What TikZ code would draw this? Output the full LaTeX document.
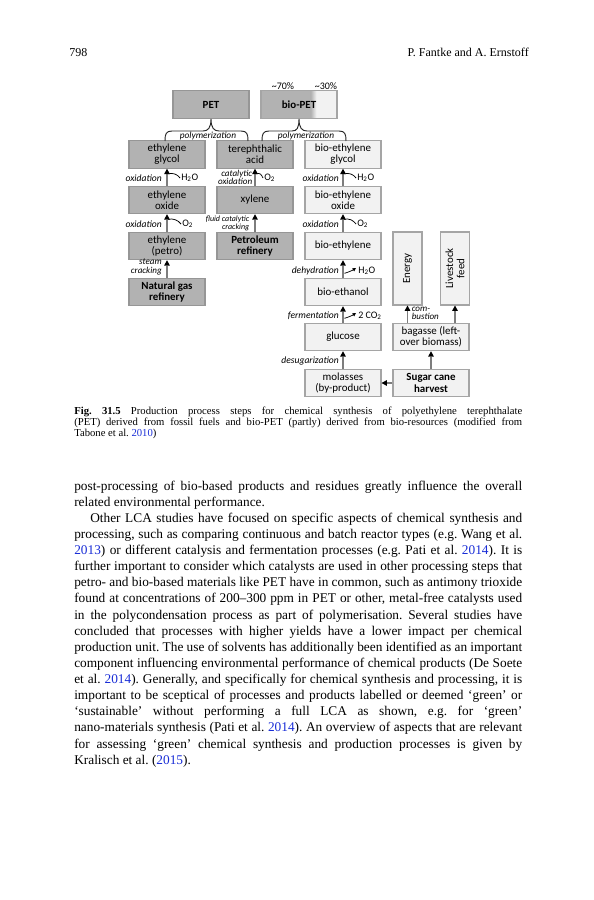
\documentclass[tikz,border=0pt]{standalone}
\usepackage{fontspec}
\setmainfont{Liberation Serif}
\newfontfamily\carlito{Carlito}
\usetikzlibrary{arrows.meta,calc}
\definecolor{darkfill}{RGB}{178,178,178}
\definecolor{darkline}{RGB}{150,150,150}
\definecolor{lightfill}{RGB}{242,242,242}
\definecolor{lightline}{RGB}{165,165,165}
\definecolor{shaft}{RGB}{125,125,125}
\definecolor{linkblue}{RGB}{25,45,215}
\newcommand\lnk[1]{\textcolor{linkblue}{#1}}
\newcommand\chsub[1]{\textsubscript{#1}}
\tikzset{
  box/.style={draw, line width=0.8pt, minimum width=57pt, minimum height=20.6pt, inner sep=1pt, align=center, font=\carlito\fontsize{8.2}{8.4}\selectfont},
  dk/.style={box, fill=darkfill, draw=darkline},
  lt/.style={box, fill=lightfill, draw=lightline},
  bfb/.style={font=\carlito\bfseries\fontsize{8.2}{8.4}\selectfont},
  flow/.style={draw=shaft, line width=1.1pt, -{Triangle[length=4pt,width=4.4pt,color=black,line width=0pt]}},
  inline/.style={draw=black, line width=0.55pt},
  outarr/.style={draw=black, line width=0.55pt, -{Triangle[length=2.6pt,width=2.8pt,line width=0pt]}},
  brace/.style={draw=black!85, line width=0.7pt},
  lab/.style={inner sep=0pt, font=\carlito\itshape\fontsize{7.2}{7.2}\selectfont},
  plab/.style={inner sep=0pt, font=\carlito\itshape\fontsize{7}{7}\selectfont},
  chem/.style={inner sep=0pt, font=\carlito\fontsize{7.5}{7.5}\selectfont},
  smalllab/.style={inner sep=0pt, font=\carlito\itshape\fontsize{6.8}{6.3}\selectfont},
  tinylab/.style={inner sep=0pt, font=\carlito\itshape\fontsize{6}{6}\selectfont},
  pct/.style={inner sep=0pt, font=\carlito\fontsize{7.5}{7.5}\selectfont},
  txt/.style={anchor=base west, inner sep=0pt, font=\fontsize{10}{12}\selectfont},
  captxt/.style={anchor=base west, inner sep=0pt, font=\fontsize{8}{9}\selectfont},
  head/.style={inner sep=0pt, font=\fontsize{9}{10}\selectfont}
}
\begin{document}
\frenchspacing
\begin{tikzpicture}[x=0.75pt,y=-0.75pt]
\useasboundingbox[fill=white] (0,0) rectangle (593,900);

% running head
\node[head, anchor=base west] (pg) at (69,56) {798};
\node[head, anchor=base east] (au) at (529,56) {P. Fantke and A. Ernstoff};

% ---------- diagram ----------
\node[dk, bfb] (pet) at (211,104.5) {PET};
\node[lt, bfb, path picture={
   \fill[darkfill] (path picture bounding box.south west) rectangle ([xshift=-19.5pt]path picture bounding box.north east);
   \shade[left color=darkfill, right color=lightfill] ([xshift=-19.6pt]path picture bounding box.south east) rectangle ([xshift=-15.5pt]path picture bounding box.north east);
 }] (bpet) at (299,104.5) {bio-PET};
\node[pct] (p70) at (283,86) {\textasciitilde70\%};
\node[pct] (p30) at (326,86) {\textasciitilde30\%};

\node[dk] (eg) at (167,154.5) {ethylene\\glycol};
\node[dk] (ta) at (255,154.5) {terephthalic\\acid};
\node[lt] (beg) at (343,154.5) {bio-ethylene\\glycol};

\node[dk] (eo) at (167,200) {ethylene\\oxide};
\node[dk] (xy) at (255,200) {xylene};
\node[lt] (beo) at (343,200) {bio-ethylene\\oxide};

\node[dk] (ep) at (167,246) {ethylene\\(petro)};
\node[dk, bfb] (pr) at (255,246) {Petroleum\\refinery};
\node[lt] (be) at (343,246) {bio-ethylene};

\node[dk, bfb] (ng) at (167,292) {Natural gas\\refinery};
\node[lt] (bet) at (343,292) {bio-ethanol};

\node[lt] (glu) at (343,337) {glucose};
\node[lt] (bag) at (431,337) {bagasse (left-\\over biomass)};

\node[lt] (mol) at (343,383) {molasses\\(by-product)};
\node[lt, bfb] (sch) at (431,383) {Sugar cane\\harvest};

% tall boxes (text rotated; their page bottom is the anchor .west)
\node[lt, rotate=90, minimum width=54.75pt, minimum height=21.75pt] (en) at (407.5,268.5) {Energy};
\node[lt, rotate=90, minimum width=54.75pt, minimum height=21.75pt] (lf) at (455,268.5) {Livestock\\feed};

% braces
\draw[brace] (165,141) .. controls (165,134) and (166,131) .. (172,131) -- (203,131)
   .. controls (208,131) and (211,128) .. (pet.south)
   .. controls (211,128) and (214,131) .. (219,131) -- (241,131)
   .. controls (247,131) and (248,134) .. (248,141);
\draw[brace] (262,141) .. controls (262,134) and (263,131) .. (269,131) -- (292,131)
   .. controls (297,131) and (299,128) .. (bpet.south)
   .. controls (299,128) and (302,131) .. (307,131) -- (339,131)
   .. controls (345,131) and (346,134) .. (346,141);
\node[plab] (poly1) at (208,136.5) {polymerization};
\node[plab] (poly2) at (306,136.5) {polymerization};

% vertical flows
\draw[flow] (eo.north) -- (eg.south);
\draw[flow] (ep.north) -- (eo.south);
\draw[flow] (ng.north) -- (ep.south);
\draw[flow] (xy.north) -- (ta.south);
\draw[flow] (pr.north) -- (xy.south);
\draw[flow] (beo.north) -- (beg.south);
\draw[flow] (be.north) -- (beo.south);
\draw[flow] (bet.north) -- (be.south);
\draw[flow] (glu.north) -- (bet.south);
\draw[flow] (mol.north) -- (glu.south);
\draw[flow] (bag.north -| en.west) -- (en.west);
\draw[flow] (bag.north -| lf.west) -- (lf.west);
\draw[flow] (sch.north) -- (bag.south);
\draw[flow] (sch.west) -- (mol.east);

% labels between rows 2 and 3
\node[lab, anchor=east] (ox1) at (162,178) {oxidation};
\node[chem, anchor=west] (w1) at (181,178) {H\chsub{2}O};
\coordinate (s1) at ($(eg.south)+(1.2,5)$);
\draw[inline] (s1) .. controls +(5,-1) and +(-3,-4) .. ($(w1.west)+(-1,0)$);

\node[smalllab, anchor=east, align=right] (cat) at (252.5,177.5) {catalytic\\oxidation};
\node[chem, anchor=west] (o1) at (264,178) {O\chsub{2}};
\coordinate (s2) at ($(ta.south)+(1.2,5)$);
\draw[inline] (s2) .. controls +(4,-1) and +(-2,-4) .. ($(o1.west)+(-1,0)$);

\node[lab, anchor=east] (ox2) at (339,178) {oxidation};
\node[chem, anchor=west] (w2) at (357,178) {H\chsub{2}O};
\coordinate (s3) at ($(beg.south)+(1.2,5)$);
\draw[inline] (s3) .. controls +(5,-1) and +(-3,-4) .. ($(w2.west)+(-1,0)$);

% labels between rows 3 and 4
\node[lab, anchor=east] (ox3) at (162,224) {oxidation};
\node[chem, anchor=west] (o2) at (182,224) {O\chsub{2}};
\coordinate (s4) at ($(eo.south)+(1.2,5)$);
\draw[inline] (s4) .. controls +(5,-1) and +(-3,-4) .. ($(o2.west)+(-1,0)$);

\node[tinylab, anchor=east, align=right] (fcc) at (249.5,223) {fluid catalytic\\cracking};

\node[lab, anchor=east] (ox4) at (339,224) {oxidation};
\node[chem, anchor=west] (o3) at (357,224) {O\chsub{2}};
\coordinate (s5) at ($(beo.south)+(1.2,5)$);
\draw[inline] (s5) .. controls +(5,-1) and +(-3,-4) .. ($(o3.west)+(-1,0)$);

% labels between rows 4 and 5
\node[smalllab, anchor=east, align=right] (stc) at (162,267) {steam\\cracking};
\node[lab, anchor=east] (dh) at (339,271) {dehydration};
\node[chem, anchor=west] (w3) at (358,271) {H\chsub{2}O};
\coordinate (s6) at ($(be.south)+(1.5,13)$);
\draw[outarr] (s6) .. controls +(4,-1) and +(-3,2) .. ($(w3.west)+(-2,-3)$);

% labels between rows 5 and 6
\node[lab, anchor=east] (fm) at (339,316) {fermentation};
\node[chem, anchor=west] (co) at (358,316) {2 CO\chsub{2}};
\coordinate (s7) at ($(bet.south)+(1.5,12)$);
\draw[outarr] (s7) .. controls +(4,-1) and +(-3,2) .. ($(co.west)+(-2,-3)$);
\node[smalllab, anchor=west, align=left] (cb) at (411.5,313.5) {com-\\bustion};

% labels between rows 6 and 7
\node[lab, anchor=east] (ds) at (339,361) {desugarization};

% ---------- caption ----------
\node[captxt] (c1) at (74,414.5) {\makebox[336pt][s]{\textbf{Fig. 31.5} Production process steps for chemical synthesis of polyethylene terephthalate}};
\node[captxt] (c2) at (74,425.5) {\makebox[336pt][s]{(PET) derived from fossil fuels and bio-PET (partly) derived from bio-resources (modified from}};
\node[captxt] (c3) at (74,436.5) {Tabone et al. \lnk{2010})};

% ---------- body text ----------
\node[txt] (b1) at (74,490.0) {\makebox[336pt][s]{post-processing of bio-based products and residues greatly influence the overall}};
\node[txt] (b2) at (74,506.1) {related environmental performance.};
\node[txt] (b3) at (74,522.3) {\makebox[336pt][s]{\hspace*{12pt}Other LCA studies have focused on specific aspects of chemical synthesis and}};
\node[txt] (b4) at (74,538.4) {\makebox[336pt][s]{processing, such as comparing continuous and batch reactor types (e.g. Wang et al.}};
\node[txt] (b5) at (74,554.5) {\makebox[336pt][s]{\lnk{2013}) or different catalysis and fermentation processes (e.g. Pati et al. \lnk{2014}). It is}};
\node[txt] (b6) at (74,570.7) {\makebox[336pt][s]{further important to consider which catalysts are used in other processing steps that}};
\node[txt] (b7) at (74,586.8) {\makebox[336pt][s]{petro- and bio-based materials like PET have in common, such as antimony trioxide}};
\node[txt] (b8) at (74,602.9) {\makebox[336pt][s]{found at concentrations of 200–300 ppm in PET or other, metal-free catalysts used}};
\node[txt] (b9) at (74,619.0) {\makebox[336pt][s]{in the polycondensation process as part of polymerisation. Several studies have}};
\node[txt] (b10) at (74,635.2) {\makebox[336pt][s]{concluded that processes with higher yields have a lower impact per chemical}};
\node[txt] (b11) at (74,651.3) {\makebox[336pt][s]{production unit. The use of solvents has additionally been identified as an important}};
\node[txt] (b12) at (74,667.4) {\makebox[336pt][s]{component influencing environmental performance of chemical products (De Soete}};
\node[txt] (b13) at (74,683.6) {\makebox[336pt][s]{et al. \lnk{2014}). Generally, and specifically for chemical synthesis and processing, it is}};
\node[txt] (b14) at (74,699.7) {\makebox[336pt][s]{important to be sceptical of processes and products labelled or deemed ‘green’ or}};
\node[txt] (b15) at (74,715.8) {\makebox[336pt][s]{‘sustainable’ without performing a full LCA as shown, e.g. for ‘green’}};
\node[txt] (b16) at (74,731.9) {\makebox[336pt][s]{nano-materials synthesis (Pati et al. \lnk{2014}). An overview of aspects that are relevant}};
\node[txt] (b17) at (74,748.1) {\makebox[336pt][s]{for assessing ‘green’ chemical synthesis and production processes is given by}};
\node[txt] (b18) at (74,764.2) {Kralisch et al. (\lnk{2015}).};
\end{tikzpicture}
\end{document}
